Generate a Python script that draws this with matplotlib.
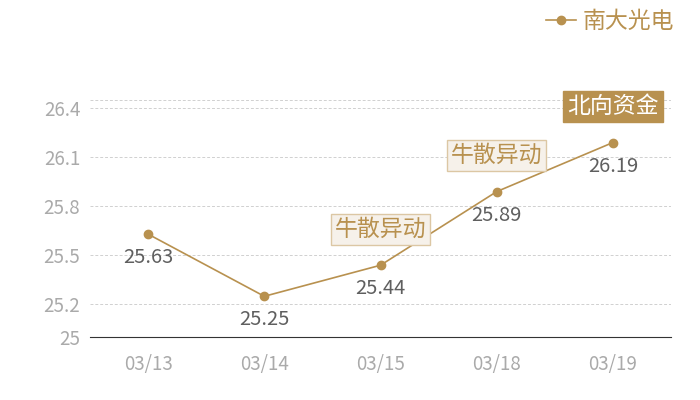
import matplotlib
matplotlib.use("Agg")
import matplotlib.pyplot as plt
from matplotlib.lines import Line2D

plt.rcParams['font.family'] = ['Noto Sans CJK SC', 'DejaVu Sans']

dates = ["03/13", "03/14", "03/15", "03/18", "03/19"]
prices = [25.63, 25.25, 25.44, 25.89, 26.19]
series_name = "南大光电"
yticks = [25, 25.2, 25.5, 25.8, 26.1, 26.4]
events = [(2, "牛散异动", "light"), (3, "牛散异动", "light"), (4, "北向资金", "dark")]

gold = "#b8914f"
fig = plt.figure(figsize=(7, 4), dpi=100)
ax = fig.add_axes([0.1286, 0.157, 0.83, 0.593])
x = list(range(len(dates)))
ax.plot(x, prices, color=gold, lw=1.2, marker='o', ms=6, zorder=3)
ax.set_xlim(-0.5, len(dates) - 0.5)
ax.set_ylim(25, 26.45)
ax.set_yticks(yticks + [26.45])
ax.set_yticklabels([f"{v:g}" for v in yticks] + [""])
ax.set_xticks(x)
ax.set_xticklabels(dates)
ax.tick_params(length=0, colors="#aaaaaa", labelsize=13.5)
ax.tick_params(axis='y', pad=7)
ax.tick_params(axis='x', pad=12)
for s in ["top", "right", "left"]:
    ax.spines[s].set_visible(False)
ax.spines["bottom"].set_color("#333333")
ax.grid(axis='y', color="#d0d0d0", ls=(0, (3, 2)), lw=0.7)
ax.set_axisbelow(True)

for xi, v in zip(x, prices):
    ax.annotate(f"{v:.2f}", (xi, v), xytext=(0, -17), textcoords="offset points",
                ha="center", va="center", fontsize=14.5, color="#5f5f5f")

for i, txt, style in events:
    if style == "light":
        bbox = dict(boxstyle="square,pad=0.17", fc="#f6f1ea", ec="#dcc7a4", lw=1)
        col = gold
    else:
        bbox = dict(boxstyle="square,pad=0.17", fc=gold, ec=gold, lw=1)
        col = "white"
    ax.annotate(txt, (i, prices[i]), xytext=(0, 26), textcoords="offset points",
                ha="center", va="center", fontsize=16.5, color=col, bbox=bbox, zorder=4)

handle = Line2D([], [], color=gold, marker='o', ms=6, lw=1.2)
leg = fig.legend([handle], [series_name], loc="upper right", bbox_to_anchor=(0.993, 1.027),
                 frameon=False, fontsize=16.5, handlelength=1.3, handletextpad=0.3)
for t in leg.get_texts():
    t.set_color(gold)

fig.savefig("out.png", dpi=100)
